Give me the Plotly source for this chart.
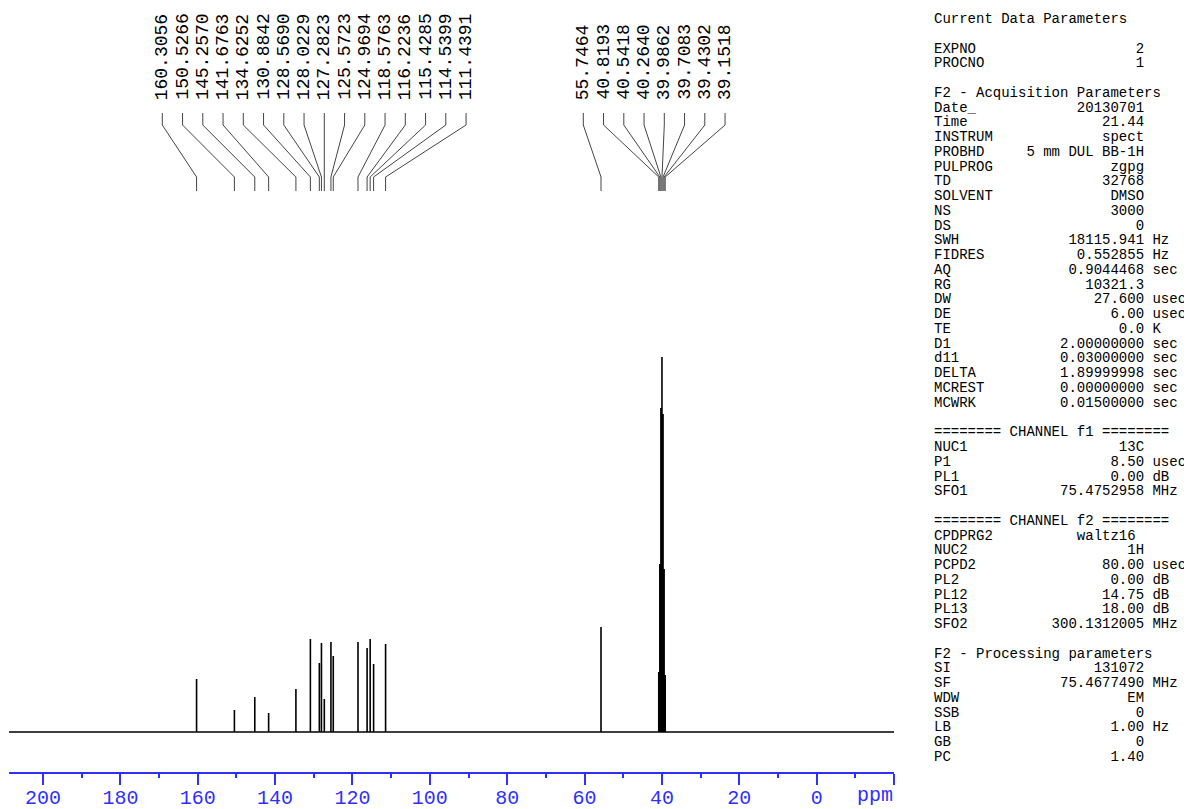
import plotly.graph_objects as go

# ---------------- data ----------------
PEAK_PPM = [160.3056, 150.5266, 145.2570, 141.6763, 134.6252, 130.8842, 128.5690,
            128.0229, 127.2823, 125.5723, 124.9694, 118.5763, 116.2236, 115.4285,
            114.5399, 111.4391,
            55.7464, 40.8193, 40.5418, 40.2640, 39.9862, 39.7083, 39.4302, 39.1518]
PEAK_INT = [53, 22, 35, 19, 43, 93, 69,
            89, 33, 90, 76, 90, 84, 93,
            68, 88,
            105, 60, 168, 324, 375, 318, 163, 57]
N_LEFT_GROUP = 16

X_TICKS = [200, 180, 160, 140, 120, 100, 80, 60, 40, 20, 0, -20]
X_TICK_TEXT = ["200", "180", "160", "140", "120", "100", "80", "60", "40", "20", "0", ""]
X_MINOR = [190, 170, 150, 130, 110, 90, 70, 50, 30, 10, -10]
X_RANGE = [208.8, -20]

PARAMS = [
    ("Current Data Parameters", None, None),
    None,
    ("EXPNO", "2", ""),
    ("PROCNO", "1", ""),
    None,
    ("F2 - Acquisition Parameters", None, None),
    ("Date_", "20130701", ""),
    ("Time", "21.44", ""),
    ("INSTRUM", "spect", ""),
    ("PROBHD", "5 mm DUL BB-1H", ""),
    ("PULPROG", "zgpg", ""),
    ("TD", "32768", ""),
    ("SOLVENT", "DMSO", ""),
    ("NS", "3000", ""),
    ("DS", "0", ""),
    ("SWH", "18115.941", "Hz"),
    ("FIDRES", "0.552855", "Hz"),
    ("AQ", "0.9044468", "sec"),
    ("RG", "10321.3", ""),
    ("DW", "27.600", "usec"),
    ("DE", "6.00", "usec"),
    ("TE", "0.0", "K"),
    ("D1", "2.00000000", "sec"),
    ("d11", "0.03000000", "sec"),
    ("DELTA", "1.89999998", "sec"),
    ("MCREST", "0.00000000", "sec"),
    ("MCWRK", "0.01500000", "sec"),
    None,
    ("======== CHANNEL f1 ========", None, None),
    ("NUC1", "13C", ""),
    ("P1", "8.50", "usec"),
    ("PL1", "0.00", "dB"),
    ("SFO1", "75.4752958", "MHz"),
    None,
    ("======== CHANNEL f2 ========", None, None),
    ("CPDPRG2", "waltz16 ", ""),
    ("NUC2", "1H", ""),
    ("PCPD2", "80.00", "usec"),
    ("PL2", "0.00", "dB"),
    ("PL12", "14.75", "dB"),
    ("PL13", "18.00", "dB"),
    ("SFO2", "300.1312005", "MHz"),
    None,
    ("F2 - Processing parameters", None, None),
    ("SI", "131072", ""),
    ("SF", "75.4677490", "MHz"),
    ("WDW", "EM", ""),
    ("SSB", "0", ""),
    ("LB", "1.00", "Hz"),
    ("GB", "0", ""),
    ("PC", "1.40", ""),
]

# ---------------- layout constants ----------------
PAGE_OFF = 8                      # default body margin of the html page
W, H = 1192 - PAGE_OFF, 809 - PAGE_OFF
AXIS_PY = 772                     # axis line position in window pixels
ML = 9 - PAGE_OFF
MR = W - (894 - PAGE_OFF)
MT = 0
MB = H - (AXIS_PY - PAGE_OFF)
PLOT_H = H - MT - MB
PLOT_W = W - ML - MR
BASE_ABOVE_AXIS = 40
BLUE = "#2f2fff"


def py2paper(py):
    fy = py - PAGE_OFF
    return (MT + PLOT_H - fy) / PLOT_H


def px2paper(px):
    fx = px - PAGE_OFF
    return (fx - ML) / PLOT_W


def px2ppm(px):
    return X_RANGE[0] - px2paper(px) * (X_RANGE[0] - X_RANGE[1])


# ---------------- spectrum trace ----------------
pairs = sorted(zip(PEAK_PPM, PEAK_INT), key=lambda t: -t[0])
xs, ys = [X_RANGE[0]], [0]
for p, h in pairs:
    xs += [p, p, p]
    ys += [0, h, 0]
xs.append(X_RANGE[1])
ys.append(0)

fig = go.Figure()
fig.add_trace(go.Scatter(x=xs, y=ys, mode="lines",
                         line=dict(color="black", width=1.6),
                         hoverinfo="skip", showlegend=False))

annotations = []
shapes = []

# ---------------- peak labels with leader lines ----------------
LABEL_BOTTOM_PY = 101
LINE_TOP_PY, BEND1_PY, BEND2_PY, LINE_END_PY = 113, 125, 177, 191
LABEL_STEP_PX = 20.25
groups = [(0, N_LEFT_GROUP, 162.3), (N_LEFT_GROUP, len(PEAK_PPM), 583.3)]
for start, end, first_px in groups:
    for k, idx in enumerate(range(start, end)):
        ppm = PEAK_PPM[idx]
        lx = px2ppm(first_px + k * LABEL_STEP_PX)
        annotations.append(dict(
            x=lx, xref="x", y=py2paper(LABEL_BOTTOM_PY), yref="paper",
            text=f"{ppm:.4f}", textangle=-90, showarrow=False,
            xanchor="center", yanchor="bottom",
            font=dict(family="Liberation Mono", size=18, color="black"),
            borderpad=0))
        path = (f"M {lx},{py2paper(LINE_TOP_PY)} L {lx},{py2paper(BEND1_PY)} "
                f"L {ppm},{py2paper(BEND2_PY)} L {ppm},{py2paper(LINE_END_PY)}")
        shapes.append(dict(type="path", path=path, xref="x", yref="paper",
                           line=dict(color="#444444", width=1)))

# ---------------- parameter panel ----------------
PANEL_X_PX = 933
PANEL_Y0 = 19
PANEL_DY = 14.76
VALUE_COL_END = 25
for i, row in enumerate(PARAMS):
    if row is None:
        continue
    name, value, unit = row
    if value is None:
        line = name
    else:
        line = name.ljust(VALUE_COL_END - len(value)) + value
        if unit:
            line += " " + unit
    annotations.append(dict(
        x=px2paper(PANEL_X_PX), xref="paper",
        y=py2paper(PANEL_Y0 + i * PANEL_DY), yref="paper",
        text=line.replace(" ", "\u00a0"), showarrow=False,
        xanchor="left", yanchor="middle", borderpad=0,
        font=dict(family="Liberation Mono", size=14, color="black")))

# ---------------- ppm unit label ----------------
annotations.append(dict(
    x=px2paper(875), xref="paper", y=py2paper(796), yref="paper",
    text="ppm", showarrow=False, xanchor="center", yanchor="middle",
    borderpad=0,
    font=dict(family="Liberation Mono", size=20, color=BLUE)))

fig.update_layout(
    width=W, height=H,
    margin=dict(l=ML, r=MR, t=MT, b=MB, pad=0, autoexpand=False),
    paper_bgcolor="white", plot_bgcolor="white",
    annotations=annotations, shapes=shapes,
    xaxis=dict(range=X_RANGE, showgrid=False, zeroline=False, automargin=False,
               showline=True, linecolor=BLUE, linewidth=1.5,
               tickmode="array", tickvals=X_TICKS, ticktext=X_TICK_TEXT,
               ticks="outside", ticklen=11, tickwidth=1.5, tickcolor=BLUE,
               tickfont=dict(family="Liberation Mono", size=20, color=BLUE),
               ticklabelstandoff=-5,
               minor=dict(tickvals=X_MINOR, ticks="outside", ticklen=4,
                          tickwidth=1.5, tickcolor=BLUE, showgrid=False)),
    yaxis=dict(range=[-BASE_ABOVE_AXIS, PLOT_H - BASE_ABOVE_AXIS], visible=False,
               showgrid=False, zeroline=False),
)

fig.write_html("out.html")
